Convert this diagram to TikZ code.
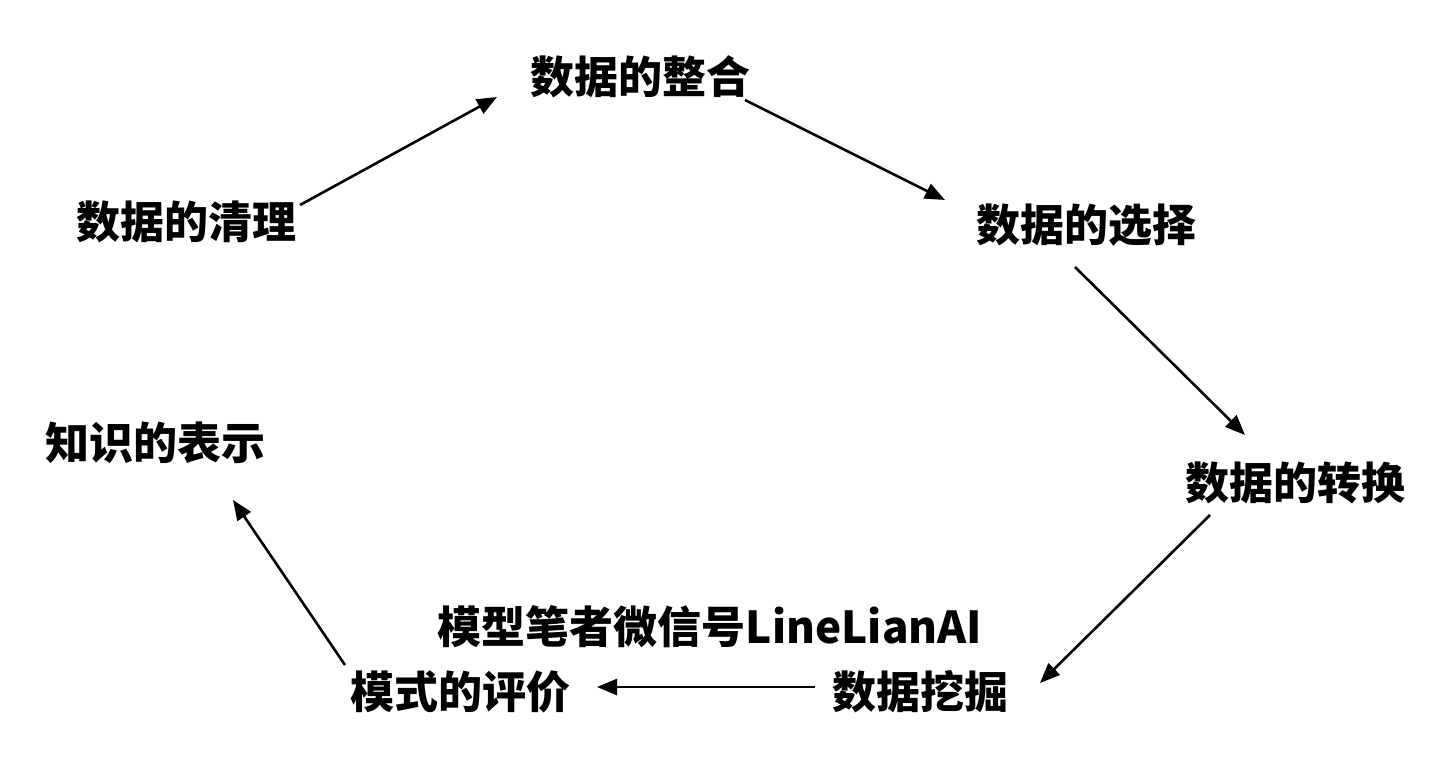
\documentclass[tikz,border=0pt]{standalone}
\usepackage{fontspec}
\setmainfont{Noto Sans CJK SC}
\usetikzlibrary{arrows.meta}
\tikzset{lbl/.style={font=\fontsize{44}{48}\selectfont\bfseries, inner sep=0pt},
 arr/.style={line width=2.6pt, -{Triangle[length=20pt,width=16pt]}}}
\begin{document}
\begin{tikzpicture}[x=1pt,y=-1pt]
\useasboundingbox (0,0) rectangle (1440,774);
\node[lbl] (a) at (640,77) {数据的整合};
\node[lbl] (b) at (186,222) {数据的清理};
\node[lbl] (c) at (1086,225) {数据的选择};
\node[lbl] (d) at (155,443) {知识的表示};
\node[lbl] (e) at (1295,483) {数据的转换};
\node[lbl] (w) at (710,627) {模型笔者微信号LineLianAI};
\node[lbl] (f) at (460,692) {模式的评价};
\node[lbl] (g) at (920,692) {数据挖掘};
\coordinate (a1) at (300,205); \coordinate (a2) at (497,97);
\coordinate (b1) at (745,100); \coordinate (b2) at (945,200);
\coordinate (c1) at (1075,267); \coordinate (c2) at (1245,435);
\coordinate (d1) at (1210,515); \coordinate (d2) at (1040,683);
\coordinate (e1) at (815,687); \coordinate (e2) at (597,687);
\coordinate (f1) at (345,665); \coordinate (f2) at (233,500);
\draw[arr] (a1) -- (a2);
\draw[arr] (b1) -- (b2);
\draw[arr] (c1) -- (c2);
\draw[arr] (d1) -- (d2);
\draw[arr] (e1) -- (e2);
\draw[arr] (f1) -- (f2);
\end{tikzpicture}
\end{document}
